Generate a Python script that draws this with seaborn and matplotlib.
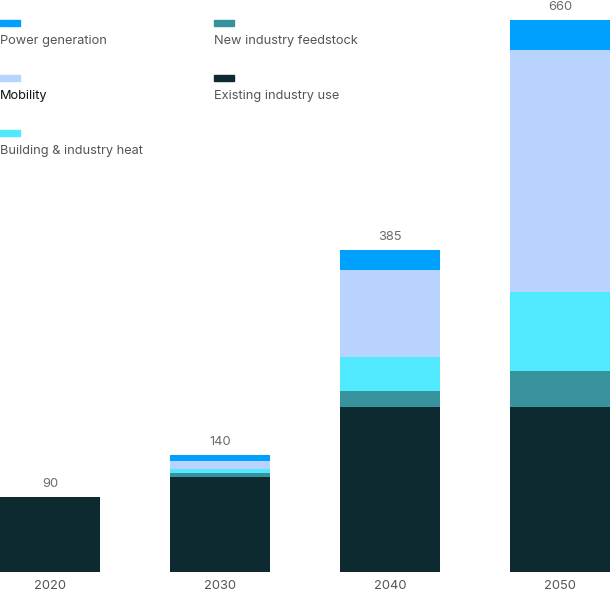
import numpy as np
import pandas as pd
import matplotlib
matplotlib.use("Agg")
import matplotlib.pyplot as plt
import seaborn as sns

years = ["2020", "2030", "2040", "2050"]
existing_use = [90, 114, 197, 197]
new_feedstock = [0, 4, 20, 44]
heat = [0, 5, 40, 94]
mobility = [0, 10, 104, 290]
power = [0, 7, 24, 35]
totals = [90, 140, 385, 660]

series_names = ["Existing industry use", "New industry feedstock",
                "Building & industry heat", "Mobility", "Power generation"]
series_vals = [existing_use, new_feedstock, heat, mobility, power]
colors = ["#0c2a2f", "#38929d", "#50e9ff", "#b8d3fe", "#00a0ff"]

sns.set_style("white")
plt.rcParams["font.family"] = ["Inter", "DejaVu Sans"]

fig = plt.figure(figsize=(6.1, 5.92), dpi=100)
ax = fig.add_axes([0, 20 / 592, 1, 572 / 592])

cum = np.cumsum(np.array(series_vals), axis=0)
# draw tallest stack first so lower layers paint over it
for i in range(len(series_names) - 1, -1, -1):
    df = pd.DataFrame({"year": years, "value": cum[i]})
    sns.barplot(data=df, x="year", y="value", color=colors[i], width=100 / 170,
                saturation=1, ax=ax, linewidth=0)

ax.bar_label(ax.containers[0], labels=[str(t) for t in totals], padding=5,
             fontsize=9.3, color="#6b6b6b")

ax.set_xlim(-50 / 170, 3 + 50 / 170)
ax.set_ylim(0, 572 / 0.836)
ax.set_xlabel("")
ax.set_ylabel("")
ax.set_yticks([])
ax.tick_params(axis="x", length=0, pad=5.5, labelsize=9.3, labelcolor="#555555")
for s in ax.spines.values():
    s.set_visible(False)

# legend: swatch above text, two columns
legend_order = [4, 3, 2, 1, 0]
for k, idx in enumerate(legend_order):
    col = 0 if k < 3 else 1
    row = k if k < 3 else k - 3
    x0 = 0 if col == 0 else 214
    y0 = 20 + row * 55
    fig.patches.append(plt.Rectangle((x0 / 610, 1 - (y0 + 6) / 592), 20 / 610, 6 / 592,
                                     transform=fig.transFigure, color=colors[idx]))
    tc = "#111111" if series_names[idx] == "Mobility" else "#555555"
    fig.text(x0 / 610, 1 - (y0 + 21) / 592, series_names[idx], fontsize=9.2,
             color=tc, va="center", ha="left")

fig.savefig("out.png", dpi=100)
